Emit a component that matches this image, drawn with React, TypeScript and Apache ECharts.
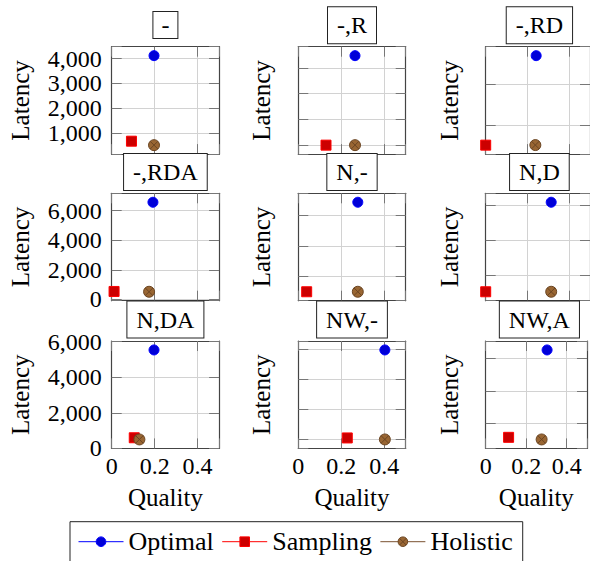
import React, { useEffect, useRef } from "react";
import * as echarts from "echarts";

// ---- data ----
const panelTitles = ["-", "-,R", "-,RD", "-,RDA", "N,-", "N,D", "N,DA", "NW,-", "NW,A"];
const optimalQuality = [0.197, 0.264, 0.242, 0.192, 0.277, 0.314, 0.197, 0.403, 0.303];
const optimalLatency = [4120, 2236, 2707, 6563, 3430, 3076, 5530, 1985, 3255];
const samplingQuality = [0.092, 0.129, 0, 0.011, 0.039, 0, 0.105, 0.228, 0.113];
const samplingLatency = [660, 500, 505, 540, 510, 514, 595, 525, 570];
const holisticQuality = [0.197, 0.264, 0.238, 0.174, 0.277, 0.314, 0.129, 0.403, 0.276];
const holisticLatency = [500, 500, 507, 520, 510, 514, 500, 500, 505];
const latencyTickStep = [1000, 500, 1000, 2000, 1000, 1000, 2000, 500, 1000];
const qualityTicks = [0, 0.2, 0.4];
const qualityRange = [0, 0.5];
const seriesNames = ["Optimal", "Sampling", "Holistic"];

const FONT = "Liberation Serif";
const OTIMES =
  "path://M0,10A10,10,0,1,1,20,10A10,10,0,1,1,0,10ZM2.93,2.93L17.07,17.07M2.93,17.07L17.07,2.93";

function enlarged(vals: number[]): [number, number] {
  const lo = Math.min(...vals);
  const hi = Math.max(...vals);
  const pad = (hi - lo) * 0.1;
  return [lo - pad, hi + pad];
}

function fmtThousands(v: number): string {
  const r = Math.round(v);
  return r.toString().replace(/\B(?=(\d{3})+(?!\d))/g, ",");
}

export default function App() {
  const ref = useRef<HTMLDivElement>(null);

  useEffect(() => {
    document.body.style.margin = "0";
    if (!ref.current) return;
    const chart = echarts.init(ref.current, undefined, { renderer: "svg" });

    const colLeft = [111.7, 298.3, 485.7];
    const rowTop = [46.7, 193.3, 341];
    const cell = 107.4;

    const grids: any[] = [];
    const xAxes: any[] = [];
    const yAxes: any[] = [];
    const series: any[] = [];
    const graphics: any[] = [];

    const axisLine = { show: true, onZero: false, lineStyle: { color: "#444", width: 1.2 } };
    const axisTick = { show: true, inside: true, length: 10, lineStyle: { color: "#777", width: 1 } };

    panelTitles.forEach((title, i) => {
      const col = i % 3;
      const row = Math.floor(i / 3);
      grids.push({ left: colLeft[col], top: rowTop[row], width: cell, height: cell, containLabel: false });

      const step = latencyTickStep[i];
      const [ymin, ymax] = enlarged([optimalLatency[i], samplingLatency[i], holisticLatency[i]]);
      const isBottom = row === 2;
      const isLeft = col === 0;

      xAxes.push({
        type: "value",
        gridIndex: i,
        position: "bottom",
        min: qualityRange[0],
        max: qualityRange[1],
        interval: 0.2,
        axisLine,
        axisTick,
        splitLine: { show: true, lineStyle: { color: "#d2d2d2", width: 1 } },
        axisLabel: {
          show: isBottom,
          margin: 6,
          fontSize: 24,
          fontFamily: FONT,
          color: "#000",
          formatter: (v: number) => (qualityTicks.some((t) => Math.abs(t - v) < 1e-9) ? String(v) : ""),
        },
        name: isBottom ? "Quality" : "",
        nameLocation: "middle",
        nameGap: 37,
        nameTextStyle: { fontSize: 25, fontFamily: FONT, color: "#000" },
      });
      xAxes.push({
        type: "value",
        gridIndex: i,
        position: "top",
        min: qualityRange[0],
        max: qualityRange[1],
        interval: 0.2,
        axisLine,
        axisTick,
        splitLine: { show: false },
        axisLabel: { show: false },
      });

      yAxes.push({
        type: "value",
        gridIndex: i,
        position: "left",
        min: ymin,
        max: ymax,
        minInterval: step,
        maxInterval: step,
        axisLine,
        axisTick,
        splitLine: { show: true, lineStyle: { color: "#d2d2d2", width: 1 } },
        axisLabel: {
          show: isLeft,
          margin: 10,
          fontSize: 24,
          fontFamily: FONT,
          color: "#000",
          formatter: (v: number) => (Math.abs(v / step - Math.round(v / step)) < 1e-6 ? fmtThousands(v) : ""),
        },
        name: "Latency",
        nameLocation: "middle",
        nameGap: isLeft ? 79 : 24,
        nameTextStyle: { fontSize: 25, fontFamily: FONT, color: "#000" },
      });
      yAxes.push({
        type: "value",
        gridIndex: i,
        position: "right",
        min: ymin,
        max: ymax,
        minInterval: step,
        maxInterval: step,
        axisLine,
        axisTick,
        splitLine: { show: false },
        axisLabel: { show: false },
      });

      const base = {
        type: "line",
        xAxisIndex: 2 * i,
        yAxisIndex: 2 * i,
        clip: false,
        showSymbol: true,
        silent: true,
      };
      series.push({
        ...base,
        name: seriesNames[0],
        data: [[optimalQuality[i], optimalLatency[i]]],
        symbol: "circle",
        symbolSize: 10,
        itemStyle: { color: "#0000d8", borderColor: "#0000ff", borderWidth: 1 },
        lineStyle: { color: "#0000ff", width: 0 },
      });
      series.push({
        ...base,
        name: seriesNames[1],
        data: [[samplingQuality[i], samplingLatency[i]]],
        symbol: "rect",
        symbolSize: 10,
        itemStyle: { color: "#cc0000", borderColor: "#ff0000", borderWidth: 1 },
        lineStyle: { color: "#ff0000", width: 0 },
      });
      series.push({
        ...base,
        name: seriesNames[2],
        data: [[holisticQuality[i], holisticLatency[i]]],
        symbol: OTIMES,
        symbolSize: 11,
        itemStyle: { color: "#996633", borderColor: "#6b4522", borderWidth: 1 },
        lineStyle: { color: "#7a5230", width: 0 },
      });

      const cx = colLeft[col] + cell / 2;
      const tight = title === "-";
      graphics.push({
        type: "text",
        x: cx,
        y: tight ? 12 : rowTop[row] - 39.4,
        z: 100,
        style: {
          text: title,
          fontSize: 24,
          fontFamily: FONT,
          fill: "#000",
          align: "center",
          verticalAlign: "top",
          padding: tight ? [1, 8, 1, 8] : [6, 9, 6, 9],
          borderColor: "#222",
          borderWidth: 1,
          backgroundColor: "#fff",
        },
      });
    });

    chart.setOption({
      animation: false,
      textStyle: { fontFamily: FONT },
      grid: grids,
      xAxis: xAxes,
      yAxis: yAxes,
      series,
      graphic: graphics,
      legend: {
        left: 70,
        top: 521.7,
        orient: "horizontal",
        data: seriesNames,
        itemWidth: 45,
        itemHeight: 12,
        itemGap: 8,
        padding: [7, 10, 7, 8],
        borderColor: "#222",
        borderWidth: 1,
        selectedMode: false,
        textStyle: { fontSize: 26, fontFamily: FONT, color: "#000" },
        lineStyle: { width: 1, opacity: 1 },
        itemStyle: { borderWidth: 1 },
      },
    });

    return () => chart.dispose();
  }, []);

  return <div ref={ref} style={{ width: 590, height: 561 }} />;
}
